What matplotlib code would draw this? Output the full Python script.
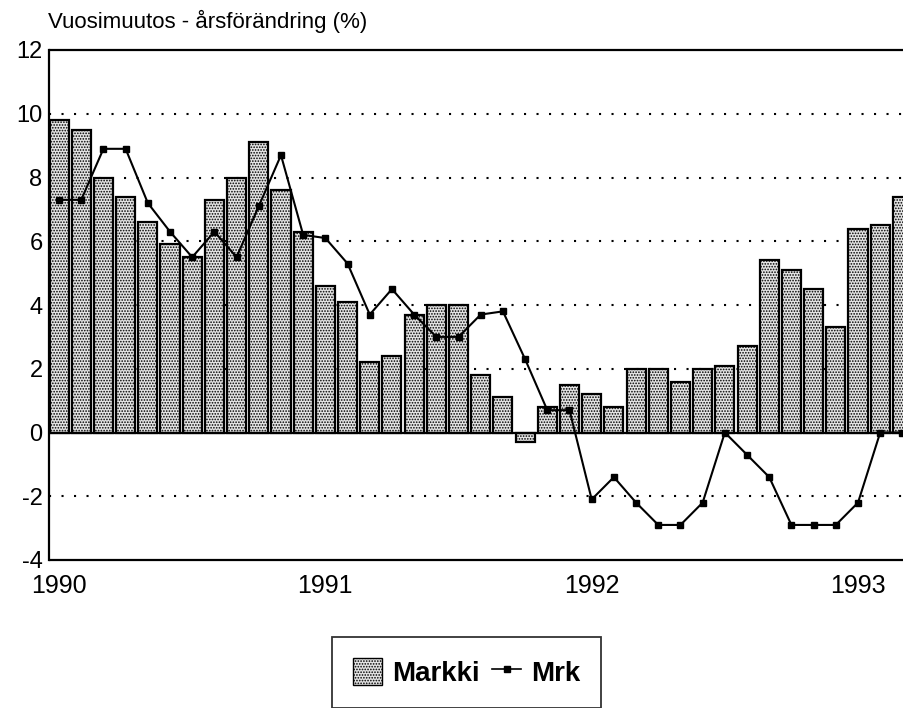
import matplotlib
matplotlib.use('Agg')
import matplotlib.pyplot as plt
from matplotlib.patches import Patch
from matplotlib.lines import Line2D

plt.rcParams['font.family'] = ['Liberation Sans', 'DejaVu Sans']
plt.rcParams['hatch.linewidth'] = 0.8

# kuukausittaiset arvot 1990/1 - 1993/3
markki = [9.8, 9.5, 8.0, 7.4, 6.6, 5.9, 5.5, 7.3, 8.0, 9.1, 7.6, 6.3,
          4.6, 4.1, 2.2, 2.4, 3.7, 4.0, 4.0, 1.8, 1.1, -0.3, 0.8, 1.5,
          1.2, 0.8, 2.0, 2.0, 1.6, 2.0, 2.1, 2.7, 5.4, 5.1, 4.5, 3.3,
          6.4, 6.5, 7.4]
mrk = [7.3, 7.3, 8.9, 8.9, 7.2, 6.3, 5.5, 6.3, 5.5, 7.1, 8.7, 6.2,
       6.1, 5.3, 3.7, 4.5, 3.7, 3.0, 3.0, 3.7, 3.8, 2.3, 0.7, 0.7,
       -2.1, -1.4, -2.2, -2.9, -2.9, -2.2, 0.0, -0.7, -1.4, -2.9, -2.9, -2.9,
       -2.2, 0.0, 0.0]
years = ['1990', '1991', '1992', '1993']
y_ticks = [-4, -2, 0, 2, 4, 6, 8, 10, 12]

x = list(range(len(markki)))
hatch = '......'
bar_face = '#e4e4e4'

fig = plt.figure(figsize=(9.04, 7.08), dpi=100)
ax = fig.add_axes([49.5 / 904, 148 / 708, 864 / 904, 510 / 708])

# katkoviivat
for g in [-2, 2, 4, 6, 8, 10]:
    ax.axhline(g, color='black', linestyle=(0, (1, 5)), linewidth=1.5, zorder=1)

ax.bar(x, markki, width=0.86, facecolor=bar_face, edgecolor='black',
       linewidth=1.6, hatch=hatch, zorder=2)
ax.axhline(0, color='black', linewidth=1.6, zorder=3)
ax.plot(x, mrk, color='black', linewidth=1.5, marker='s', markersize=5, zorder=4)

ax.set_xlim(-0.43, 38.5)
ax.set_ylim(-4, 12)
ax.set_yticks(y_ticks)
ax.set_yticklabels([str(v) for v in y_ticks], fontsize=17)
ax.set_xticks([0, 12, 24, 36])
ax.set_xticklabels(years, fontsize=18)
ax.tick_params(axis='y', length=0, pad=5)
ax.tick_params(axis='x', length=0, pad=10)
for s in ax.spines.values():
    s.set_linewidth(1.6)

fig.text(48 / 904, 1 - 28 / 708, 'Vuosimuutos - årsförändring (%)', fontsize=16,
         va='baseline', ha='left')

handles = [Patch(facecolor=bar_face, edgecolor='black', hatch=hatch, linewidth=1.0),
           Line2D([], [], color='black', linewidth=1.2, marker='s', markersize=4)]
leg = fig.legend(handles, ['Markki', 'Mrk'], loc='lower center',
                 bbox_to_anchor=(466.5 / 904, 0.5 / 708), ncol=2, frameon=True,
                 fancybox=False, borderaxespad=0, borderpad=0.75,
                 handlelength=1.05, handleheight=1.1, handletextpad=0.35,
                 columnspacing=0.45, prop={'weight': 'bold', 'size': 20})
leg.get_frame().set_edgecolor('black')
leg.get_frame().set_linewidth(1.3)

fig.savefig('out.png', dpi=100)
